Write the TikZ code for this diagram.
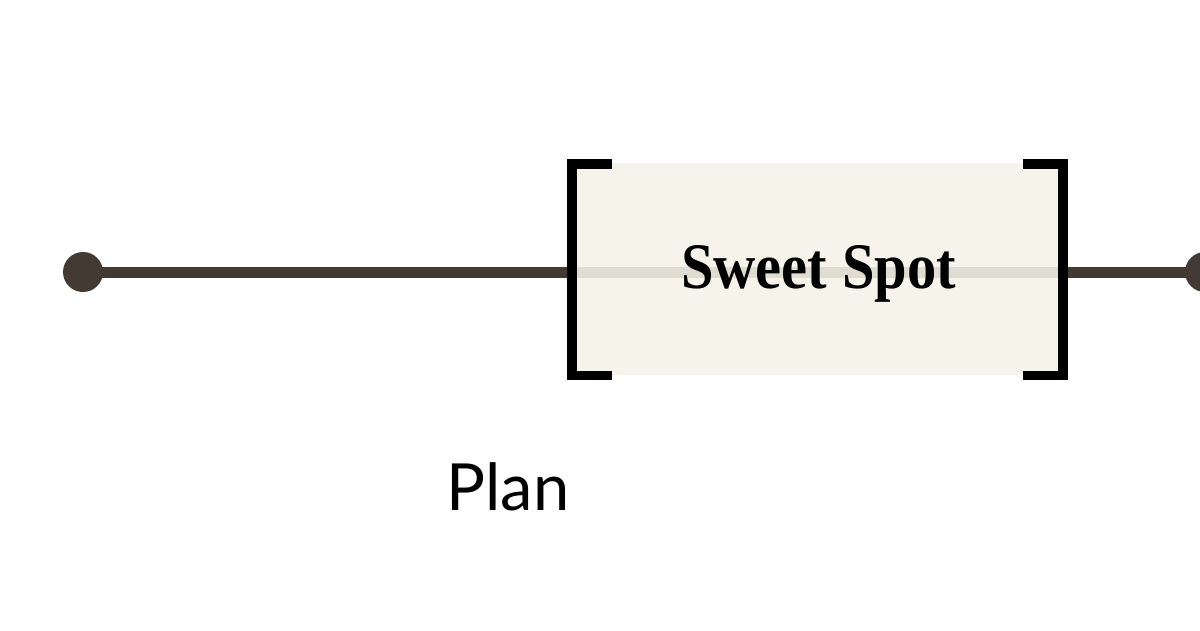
\documentclass[tikz,border=0pt]{standalone}
\usepackage{fontspec}
\setmainfont{Liberation Serif}
\newfontfamily\plansans{Lato}
\definecolor{ink}{HTML}{433B33}
\definecolor{boxfill}{HTML}{F5F3E8}
\begin{document}
\begin{tikzpicture}[x=1pt,y=-1pt,
  spine/.style={draw=ink,line width=11pt},
  endpt/.style={circle,fill=ink,minimum size=40pt,inner sep=0pt},
  brk/.style={draw=black,line width=9.5pt},
  zone/.style={fill=boxfill,fill opacity=0.88}]
\useasboundingbox (0,0) rectangle (1200,630);
\fill[white] (0,0) rectangle (1200,630);
\node[endpt] (L) at (83,272) {};
\node[endpt] (R) at (1205,272) {};
\draw[spine] (L.center) -- (R.center);
\fill[zone] (577,163) rectangle (1058,375);
% brackets
\draw[brk] (612,164) -- (572,164) -- (572,375.5) -- (612,375.5);
\draw[brk] (1023,164) -- (1063,164) -- (1063,375.5) -- (1023,375.5);
\node[anchor=base,inner sep=0pt,font=\fontsize{65}{70}\selectfont\bfseries,xscale=0.9] (ss) at (818.5,288) {Sweet Spot};
\node[anchor=base,inner sep=0pt,font=\plansans\fontsize{65}{70}\selectfont] (plan) at (508,510) {Plan};
\end{tikzpicture}
\end{document}
